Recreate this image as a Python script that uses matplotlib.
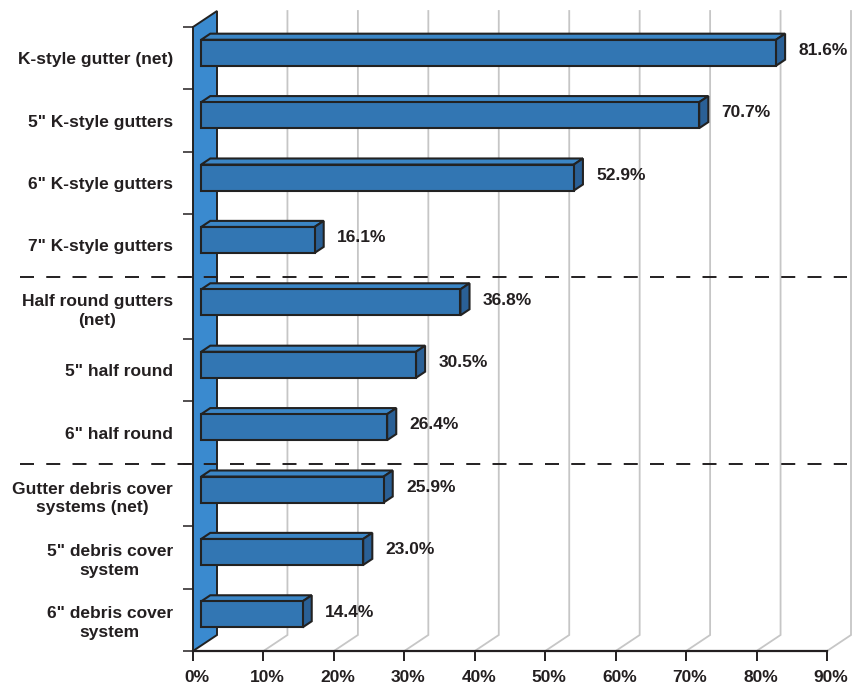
import matplotlib
matplotlib.use('Agg')
import matplotlib.pyplot as plt
import matplotlib.transforms as mtransforms
from matplotlib.patches import Polygon

plt.rcParams['font.family'] = ['Liberation Sans', 'DejaVu Sans']

labels = ['K-style gutter (net)', '5" K-style gutters', '6" K-style gutters',
          '7" K-style gutters', 'Half round gutters\n(net)', '5" half round',
          '6" half round', 'Gutter debris cover\nsystems (net)',
          '5" debris cover\nsystem', '6" debris cover\nsystem']
values = [81.6, 70.7, 52.9, 16.1, 36.8, 30.5, 26.4, 25.9, 23.0, 14.4]
group_sizes = [4, 3, 3]
xticks = [0, 10, 20, 30, 40, 50, 60, 70, 80, 90]
xticklabels = ['%d%%' % t for t in xticks]

wall_col = '#3a8acf'
front_col = '#3276b3'
top_col = '#3b86c6'
side_col = '#2a6096'
edge_col = '#222222'
grid_col = '#c6c6c6'
text_col = '#231f20'
fs = 12.5

W, H = 853, 686
fig = plt.figure(figsize=(W / 100, H / 100), dpi=100)
ax = fig.add_axes([193 / W, (H - 651) / H, (827 - 193) / W, (651 - 27) / H])
n = len(values)
ax.set_xlim(0, 90)
ax.set_ylim(n, 0)

# depth offset (pixels -> data units)
px_x = (827 - 193) / 90.0
px_y = (651 - 27) / float(n)
dx = 24 / px_x
dy = 16 / px_y

# back wall
wall = Polygon([(0, n), (0, 0), (dx, -dy), (dx, n - dy)], closed=True,
               facecolor=wall_col, edgecolor=edge_col, lw=1.4, zorder=1,
               clip_on=False)
ax.add_patch(wall)

# gridlines
for t in xticks[1:]:
    ax.plot([t, t + dx, t + dx], [n, n - dy, -dy], color=grid_col, lw=1.3,
            zorder=0.5, clip_on=False, solid_joinstyle='miter')

# group separators
b = 0
for g in group_sizes[:-1]:
    b += g
    ax.plot([-24.6, 92.8], [b, b], color=text_col, lw=1.4, dashes=(7.2, 6.3),
            zorder=2, clip_on=False)

# bars
f0, f1 = 0.34, 0.72
h = 26 / px_y
for i, v in enumerate(values):
    yc = i + 0.5
    x0, x1 = f0 * dx, v + f0 * dx
    yt, yb = yc - h / 2 - f0 * dy, yc + h / 2 - f0 * dy
    ddx, ddy = (f1 - f0) * dx, (f1 - f0) * dy
    front = Polygon([(x0, yb), (x0, yt), (x1, yt), (x1, yb)], closed=True,
                    facecolor=front_col, edgecolor=edge_col, lw=1.5, zorder=4,
                    joinstyle='miter')
    top = Polygon([(x0, yt), (x0 + ddx, yt - ddy), (x1 + ddx, yt - ddy), (x1, yt)],
                  closed=True, facecolor=top_col, edgecolor=edge_col, lw=1.5,
                  zorder=3, joinstyle='miter')
    side = Polygon([(x1, yb), (x1, yt), (x1 + ddx, yt - ddy), (x1 + ddx, yb - ddy)],
                   closed=True, facecolor=side_col, edgecolor=edge_col, lw=1.5,
                   zorder=3, joinstyle='miter')
    for p in (top, side, front):
        p.set_clip_on(False)
        ax.add_patch(p)
    ax.annotate('%.1f%%' % v, xy=(v, yc), xytext=(22, 5.5),
                textcoords='offset points', ha='left', va='center',
                fontsize=fs, fontweight='bold', color=text_col)

# axes
for s in ['left', 'right', 'top']:
    ax.spines[s].set_visible(False)
ax.spines['bottom'].set_linewidth(1.6)
ax.spines['bottom'].set_color(text_col)
ax.spines['bottom'].set_zorder(5)

ax.set_xticks(xticks)
ax.set_xticklabels(xticklabels, fontsize=fs, fontweight='bold', color=text_col)
ax.tick_params(axis='x', length=7.5, width=1.4, color=text_col, pad=6)
shift = mtransforms.ScaledTranslation(0.04, 0, fig.dpi_scale_trans)
for lab in ax.get_xticklabels():
    lab.set_transform(lab.get_transform() + shift)

ax.set_yticks(range(n + 1))
ax.set_yticklabels([])
ax.tick_params(axis='y', which='major', length=7.5, width=1.1, color=text_col)
ax.set_yticks([i + 0.5 for i in range(n)], minor=True)
ax.set_yticklabels(labels, minor=True, fontsize=fs, fontweight='bold',
                   color=text_col, multialignment='center', linespacing=1.3)
ax.tick_params(axis='y', which='minor', length=0, pad=14.5)

fig.savefig('out.png', dpi=100)
